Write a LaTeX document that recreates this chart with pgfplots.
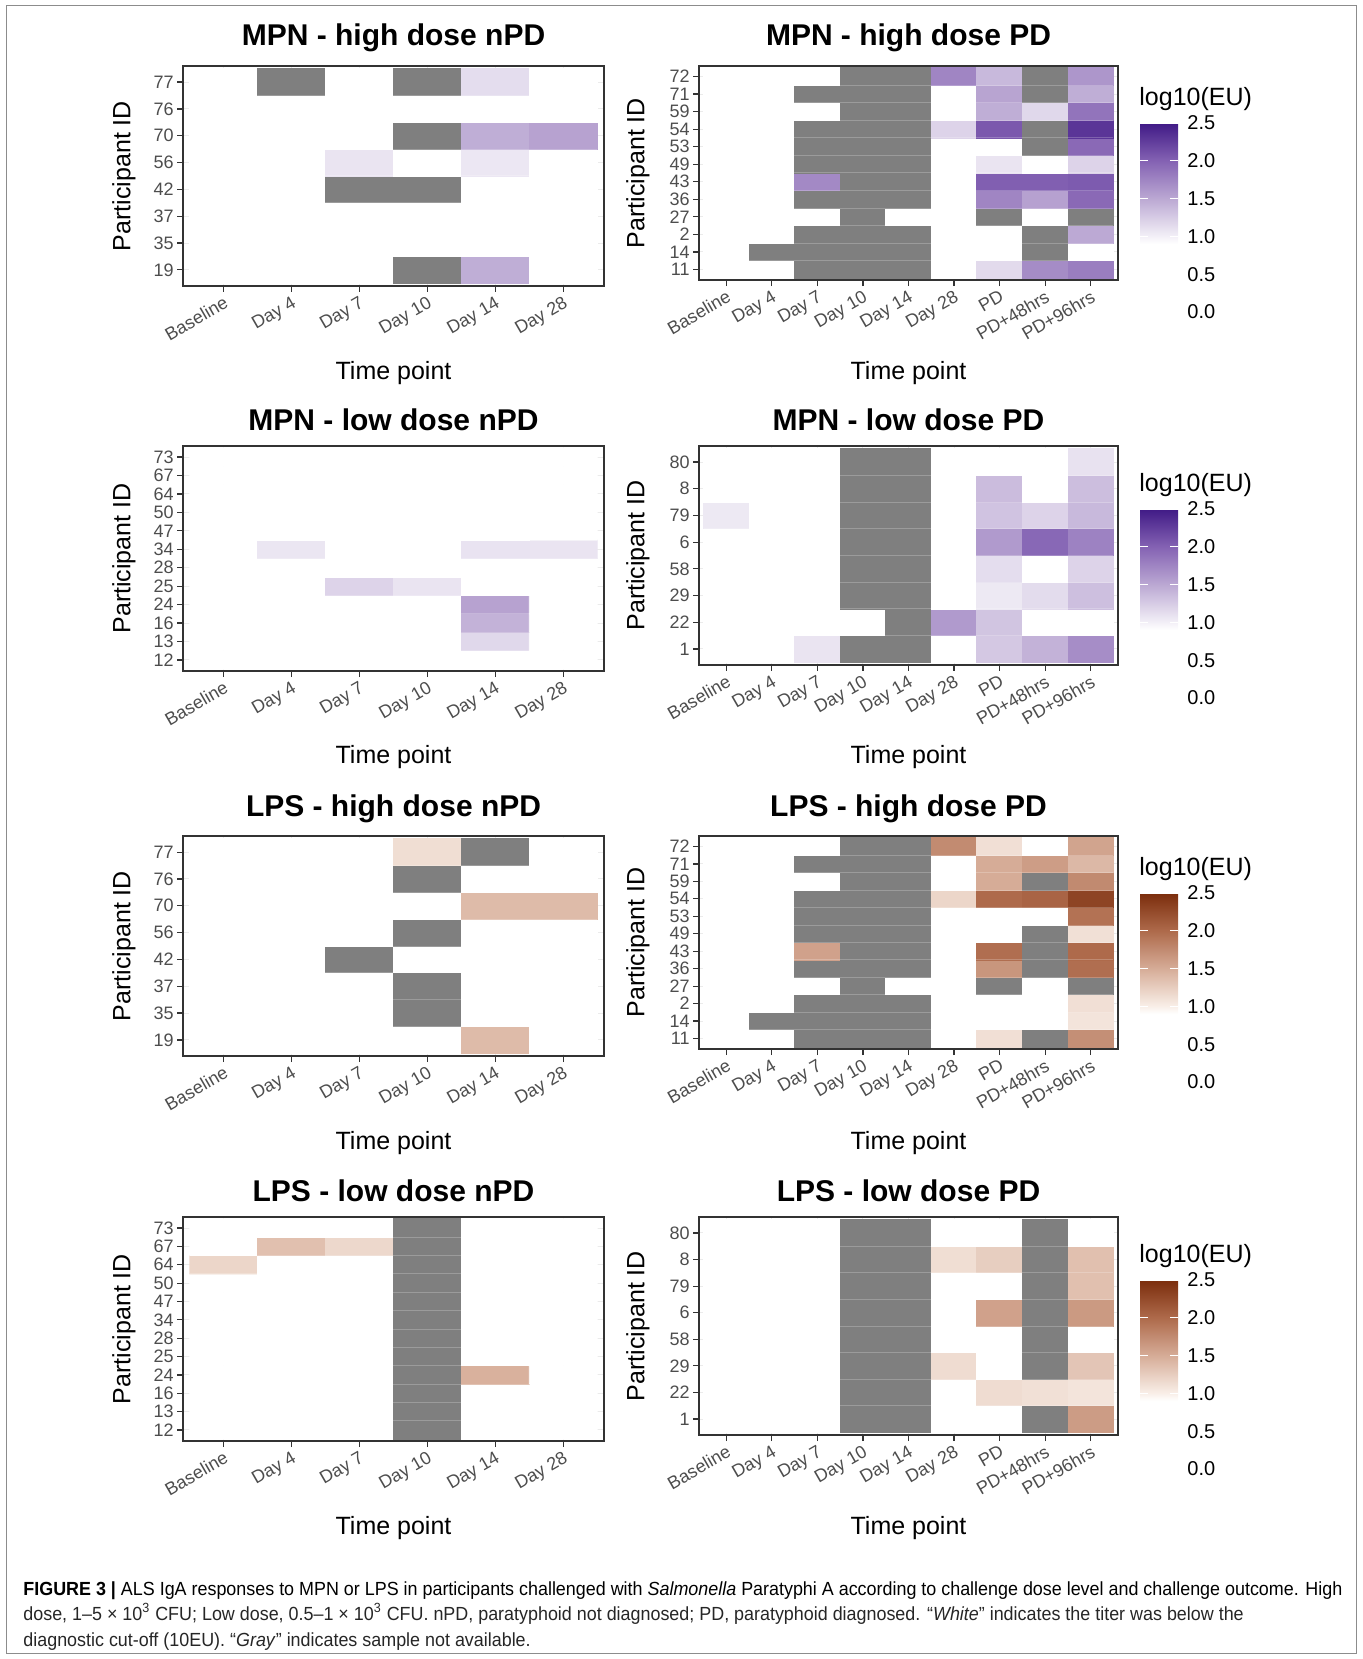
\documentclass[border=0pt]{standalone}
\usepackage{fontspec}
\setmainfont{Liberation Sans}
\newfontfamily\capfont{Liberation Sans}
\usepackage{graphicx}
\usepackage{pgfplots}
\pgfplotsset{compat=1.18}
\newsavebox\capA
\newlength\capW
\definecolor{ticktext}{HTML}{4D4D4D}
\definecolor{frameline}{HTML}{333333}
\pgfplotsset{
  colormap={mpnfull}{rgb255(0mm)=(127,127,127) rgb255(9mm)=(127,127,127) rgb255(10mm)=(255,255,255) rgb255(19mm)=(255,255,255) rgb255(20mm)=(243,240,247) rgb255(25mm)=(187,168,211) rgb255(30mm)=(132,98,179) rgb255(35mm)=(64,26,134)},
  colormap={mpnbar}{rgb255(0mm)=(255,255,255) rgb255(9mm)=(255,255,255) rgb255(10mm)=(243,240,247) rgb255(15mm)=(187,168,211) rgb255(20mm)=(132,98,179) rgb255(25mm)=(64,26,134)},
  colormap={lpsfull}{rgb255(0mm)=(127,127,127) rgb255(9mm)=(127,127,127) rgb255(10mm)=(255,255,255) rgb255(19mm)=(255,255,255) rgb255(20mm)=(249,239,232) rgb255(25mm)=(214,172,151) rgb255(30mm)=(174,106,75) rgb255(35mm)=(123,45,12)},
  colormap={lpsbar}{rgb255(0mm)=(255,255,255) rgb255(9mm)=(255,255,255) rgb255(10mm)=(249,239,232) rgb255(15mm)=(214,172,151) rgb255(20mm)=(174,106,75) rgb255(25mm)=(123,45,12)},
  hm/.style={
    scale only axis, anchor=north west,
    axis line style={draw=frameline, line width=0.7pt},
    tick align=outside, tick pos=left,
    major tick length=3pt,
    tick style={frameline, line width=0.6pt},
    grid=major, major grid style={black!8, line width=0.5pt},
    ymin=0.4, ytick distance=1,
    tick label style={font=\fontsize{9}{10}\selectfont, text=ticktext},
    x tick label style={rotate=30, anchor=north east, inner sep=1pt},
    y tick label style={inner sep=0.3pt, xshift=-1.2pt},
    /pgf/number format/assume math mode=true,
    point meta min=-1, point meta max=2.5,
  },
  hm6/.style={hm, xmin=0.4, xmax=6.6, xtick={1,...,6}, xticklabels={Baseline,Day 4,Day 7,Day 10,Day 14,Day 28}, width=210.5pt},
  hm9/.style={hm, xmin=0.4, xmax=9.6, xtick={1,...,9}, xticklabels={Baseline,Day 4,Day 7,Day 10,Day 14,Day 28,PD,PD+48hrs,PD+96hrs}, width=209.5pt},
  lgd/.style={at={(570pt,-#1)}, anchor=north west, scale only axis, width=19pt, height=94.5pt, hide axis,
     xmin=0, xmax=1, ymin=0, ymax=1, point meta min=0, point meta max=2.5,
     colorbar/width=19pt, colorbar shift/.style={}, colorbar,
     colorbar style={at={(parent axis.north west)}, anchor=north west, xshift=0pt, scale only axis, width=19pt, height=94.5pt,
       axis line style={draw=none}, xtick=\empty, ytick={0,0.5,1,1.5,2,2.5}, yticklabels={0.0,0.5,1.0,1.5,2.0,2.5},
       ytick pos=both, yticklabel pos=right, tick align=inside, major tick length=4pt,
       tick style={white, line width=0.6pt},
       yticklabel style={font=\fontsize{10}{12}\selectfont, text=black, inner sep=0pt, xshift=4.5pt}}},
}
\newcommand\rowlines[2]{\pgfplotsinvokeforeach{#1}{\draw[white, opacity=0.22, line width=0.5pt] (axis cs:0.5,##1.5) -- (axis cs:#2.5,##1.5);}}
\tikzset{ttl/.style={font=\bfseries\fontsize{15}{18}\selectfont, anchor=base},
  axl/.style={font=\fontsize{12.5}{14}\selectfont},
  lgt/.style={font=\fontsize{12.5}{14}\selectfont, anchor=west, inner sep=0pt}}
\begin{document}
\sbox\capA{\capfont\fontsize{9.5}{11}\selectfont\textbf{FIGURE 3 |} ALS IgA responses to MPN or LPS in participants challenged with \textit{Salmonella} Paratyphi A according to challenge dose level and challenge outcome. High}%
\setlength\capW{\wd\capA}%
\pgfmathsetmacro\capsc{659.5/\capW}%
\begin{tikzpicture}
\draw[black!45, line width=0.5pt] (3pt,-3pt) rectangle (678pt,-826.5pt);
% ---------- Row 1: MPN high dose
\node[ttl] at (196.75pt,-23pt) {MPN - high dose nPD};
\node[ttl] at (454.25pt,-23pt) {MPN - high dose PD};
\begin{axis}[hm6, at={(91.5pt,-33pt)}, height=110pt, colormap name=mpnfull, ymax=8.6, ytick={1,...,8}, yticklabels={19,35,37,42,56,70,76,77}]
\addplot[matrix plot*, mesh/cols=6, point meta=explicit] coordinates {
(1,1)[0] (2,1)[0] (3,1)[0] (4,1)[-1] (5,1)[1.46] (6,1)[0]
(1,2)[0] (2,2)[0] (3,2)[0] (4,2)[0] (5,2)[0] (6,2)[0]
(1,3)[0] (2,3)[0] (3,3)[0] (4,3)[0] (5,3)[0] (6,3)[0]
(1,4)[0] (2,4)[0] (3,4)[-1] (4,4)[-1] (5,4)[0] (6,4)[0]
(1,5)[0] (2,5)[0] (3,5)[1.08] (4,5)[0] (5,5)[1.06] (6,5)[0]
(1,6)[0] (2,6)[0] (3,6)[0] (4,6)[-1] (5,6)[1.46] (6,6)[1.54]
(1,7)[0] (2,7)[0] (3,7)[0] (4,7)[0] (5,7)[0] (6,7)[0]
(1,8)[0] (2,8)[-1] (3,8)[0] (4,8)[-1] (5,8)[1.13] (6,8)[0]
};
\rowlines{1,...,7}{6}
\end{axis}
\begin{axis}[hm9, at={(349.5pt,-33pt)}, height=107pt, colormap name=mpnfull, ymax=12.6, ytick={1,...,12}, yticklabels={11,14,2,27,36,43,49,53,54,59,71,72}]
\addplot[matrix plot*, mesh/cols=9, point meta=explicit] coordinates {
(1,1)[0] (2,1)[0] (3,1)[-1] (4,1)[-1] (5,1)[-1] (6,1)[0] (7,1)[1.15] (8,1)[1.70] (9,1)[1.80]
(1,2)[0] (2,2)[-1] (3,2)[-1] (4,2)[-1] (5,2)[-1] (6,2)[0] (7,2)[0] (8,2)[-1] (9,2)[0]
(1,3)[0] (2,3)[0] (3,3)[-1] (4,3)[-1] (5,3)[-1] (6,3)[0] (7,3)[0] (8,3)[-1] (9,3)[1.49]
(1,4)[0] (2,4)[0] (3,4)[0] (4,4)[-1] (5,4)[0] (6,4)[0] (7,4)[-1] (8,4)[0] (9,4)[-1]
(1,5)[0] (2,5)[0] (3,5)[-1] (4,5)[-1] (5,5)[-1] (6,5)[0] (7,5)[1.75] (8,5)[1.55] (9,5)[1.95]
(1,6)[0] (2,6)[0] (3,6)[1.72] (4,6)[-1] (5,6)[-1] (6,6)[0] (7,6)[2.02] (8,6)[2.02] (9,6)[2.05]
(1,7)[0] (2,7)[0] (3,7)[-1] (4,7)[-1] (5,7)[-1] (6,7)[0] (7,7)[1.08] (8,7)[0] (9,7)[1.20]
(1,8)[0] (2,8)[0] (3,8)[-1] (4,8)[-1] (5,8)[-1] (6,8)[0] (7,8)[0] (8,8)[-1] (9,8)[1.95]
(1,9)[0] (2,9)[0] (3,9)[-1] (4,9)[-1] (5,9)[-1] (6,9)[1.20] (7,9)[2.07] (8,9)[-1] (9,9)[2.31]
(1,10)[0] (2,10)[0] (3,10)[0] (4,10)[-1] (5,10)[-1] (6,10)[0] (7,10)[1.46] (8,10)[1.17] (9,10)[1.87]
(1,11)[0] (2,11)[0] (3,11)[-1] (4,11)[-1] (5,11)[-1] (6,11)[0] (7,11)[1.53] (8,11)[-1] (9,11)[1.46]
(1,12)[0] (2,12)[0] (3,12)[0] (4,12)[-1] (5,12)[-1] (6,12)[1.75] (7,12)[1.38] (8,12)[-1] (9,12)[1.63]
};
\rowlines{1,...,11}{9}
\end{axis}
\node[axl, rotate=90] at (62pt,-88pt) {Participant ID};
\node[axl, rotate=90] at (319pt,-86.5pt) {Participant ID};
\node[axl, anchor=base] at (196.75pt,-189.5pt) {Time point};
\node[axl, anchor=base] at (454.25pt,-189.5pt) {Time point};
\node[lgt] at (569.5pt,-49.5pt) {log10(EU)};
\begin{axis}[lgd=61.5pt, colormap name=mpnbar]
\addplot[draw=none] coordinates {(0,0)};
\end{axis}
% ---------- Row 2: MPN low dose
\node[ttl] at (196.75pt,-215.25pt) {MPN - low dose nPD};
\node[ttl] at (454.25pt,-215.25pt) {MPN - low dose PD};
\begin{axis}[hm6, at={(91.5pt,-223pt)}, height=112.5pt, colormap name=mpnfull, ymax=12.6, ytick={1,...,12}, yticklabels={12,13,16,24,25,28,34,47,50,64,67,73}]
\addplot[matrix plot*, mesh/cols=6, point meta=explicit] coordinates {
(1,1)[0] (2,1)[0] (3,1)[0] (4,1)[0] (5,1)[0] (6,1)[0]
(1,2)[0] (2,2)[0] (3,2)[0] (4,2)[0] (5,2)[1.17] (6,2)[0]
(1,3)[0] (2,3)[0] (3,3)[0] (4,3)[0] (5,3)[1.43] (6,3)[0]
(1,4)[0] (2,4)[0] (3,4)[0] (4,4)[0] (5,4)[1.54] (6,4)[0]
(1,5)[0] (2,5)[0] (3,5)[1.20] (4,5)[1.08] (5,5)[0] (6,5)[0]
(1,6)[0] (2,6)[0] (3,6)[0] (4,6)[0] (5,6)[0] (6,6)[0]
(1,7)[0] (2,7)[1.07] (3,7)[0] (4,7)[0] (5,7)[1.09] (6,7)[1.08]
(1,8)[0] (2,8)[0] (3,8)[0] (4,8)[0] (5,8)[0] (6,8)[0]
(1,9)[0] (2,9)[0] (3,9)[0] (4,9)[0] (5,9)[0] (6,9)[0]
(1,10)[0] (2,10)[0] (3,10)[0] (4,10)[0] (5,10)[0] (6,10)[0]
(1,11)[0] (2,11)[0] (3,11)[0] (4,11)[0] (5,11)[0] (6,11)[0]
(1,12)[0] (2,12)[0] (3,12)[0] (4,12)[0] (5,12)[0] (6,12)[0]
};
\rowlines{1,...,11}{6}
\end{axis}
\begin{axis}[hm9, at={(349.5pt,-223pt)}, height=109.5pt, colormap name=mpnfull, ymax=8.6, ytick={1,...,8}, yticklabels={1,22,29,58,6,79,8,80}]
\addplot[matrix plot*, mesh/cols=9, point meta=explicit] coordinates {
(1,1)[0] (2,1)[0] (3,1)[1.08] (4,1)[-1] (5,1)[-1] (6,1)[0] (7,1)[1.28] (8,1)[1.43] (9,1)[1.69]
(1,2)[0] (2,2)[0] (3,2)[0] (4,2)[0] (5,2)[-1] (6,2)[1.60] (7,2)[1.30] (8,2)[0] (9,2)[0]
(1,3)[0] (2,3)[0] (3,3)[0] (4,3)[-1] (5,3)[-1] (6,3)[0] (7,3)[1.05] (8,3)[1.14] (9,3)[1.34]
(1,4)[0] (2,4)[0] (3,4)[0] (4,4)[-1] (5,4)[-1] (6,4)[0] (7,4)[1.13] (8,4)[0] (9,4)[1.20]
(1,5)[0] (2,5)[0] (3,5)[0] (4,5)[-1] (5,5)[-1] (6,5)[0] (7,5)[1.60] (8,5)[1.96] (9,5)[1.77]
(1,6)[1.05] (2,6)[0] (3,6)[0] (4,6)[-1] (5,6)[-1] (6,6)[0] (7,6)[1.31] (8,6)[1.20] (9,6)[1.38]
(1,7)[0] (2,7)[0] (3,7)[0] (4,7)[-1] (5,7)[-1] (6,7)[0] (7,7)[1.36] (8,7)[0] (9,7)[1.35]
(1,8)[0] (2,8)[0] (3,8)[0] (4,8)[-1] (5,8)[-1] (6,8)[0] (7,8)[0] (8,8)[0] (9,8)[1.10]
};
\rowlines{1,...,7}{9}
\end{axis}
\node[axl, rotate=90] at (62pt,-279.25pt) {Participant ID};
\node[axl, rotate=90] at (319pt,-277.75pt) {Participant ID};
\node[axl, anchor=base] at (196.75pt,-381.8pt) {Time point};
\node[axl, anchor=base] at (454.25pt,-381.8pt) {Time point};
\node[lgt] at (569.5pt,-242.5pt) {log10(EU)};
\begin{axis}[lgd=254.5pt, colormap name=mpnbar]
\addplot[draw=none] coordinates {(0,0)};
\end{axis}
% ---------- Row 3: LPS high dose
\node[ttl] at (196.75pt,-408pt) {LPS - high dose nPD};
\node[ttl] at (454.25pt,-408pt) {LPS - high dose PD};
\begin{axis}[hm6, at={(91.5pt,-418pt)}, height=110pt, colormap name=lpsfull, ymax=8.6, ytick={1,...,8}, yticklabels={19,35,37,42,56,70,76,77}]
\addplot[matrix plot*, mesh/cols=6, point meta=explicit] coordinates {
(1,1)[0] (2,1)[0] (3,1)[0] (4,1)[0] (5,1)[1.39] (6,1)[0]
(1,2)[0] (2,2)[0] (3,2)[0] (4,2)[-1] (5,2)[0] (6,2)[0]
(1,3)[0] (2,3)[0] (3,3)[0] (4,3)[-1] (5,3)[0] (6,3)[0]
(1,4)[0] (2,4)[0] (3,4)[-1] (4,4)[0] (5,4)[0] (6,4)[0]
(1,5)[0] (2,5)[0] (3,5)[0] (4,5)[-1] (5,5)[0] (6,5)[0]
(1,6)[0] (2,6)[0] (3,6)[0] (4,6)[0] (5,6)[1.39] (6,6)[1.39]
(1,7)[0] (2,7)[0] (3,7)[0] (4,7)[-1] (5,7)[0] (6,7)[0]
(1,8)[0] (2,8)[0] (3,8)[0] (4,8)[1.13] (5,8)[-1] (6,8)[0]
};
\rowlines{1,...,7}{6}
\end{axis}
\begin{axis}[hm9, at={(349.5pt,-418pt)}, height=106.5pt, colormap name=lpsfull, ymax=12.6, ytick={1,...,12}, yticklabels={11,14,2,27,36,43,49,53,54,59,71,72}]
\addplot[matrix plot*, mesh/cols=9, point meta=explicit] coordinates {
(1,1)[0] (2,1)[0] (3,1)[-1] (4,1)[-1] (5,1)[-1] (6,1)[0] (7,1)[1.12] (8,1)[-1] (9,1)[1.72]
(1,2)[0] (2,2)[-1] (3,2)[-1] (4,2)[-1] (5,2)[-1] (6,2)[0] (7,2)[0] (8,2)[0] (9,2)[1.08]
(1,3)[0] (2,3)[0] (3,3)[-1] (4,3)[-1] (5,3)[-1] (6,3)[0] (7,3)[0] (8,3)[0] (9,3)[1.12]
(1,4)[0] (2,4)[0] (3,4)[0] (4,4)[-1] (5,4)[0] (6,4)[0] (7,4)[-1] (8,4)[0] (9,4)[-1]
(1,5)[0] (2,5)[0] (3,5)[-1] (4,5)[-1] (5,5)[-1] (6,5)[0] (7,5)[1.67] (8,5)[-1] (9,5)[1.97]
(1,6)[0] (2,6)[0] (3,6)[1.58] (4,6)[-1] (5,6)[-1] (6,6)[0] (7,6)[1.97] (8,6)[-1] (9,6)[2.00]
(1,7)[0] (2,7)[0] (3,7)[-1] (4,7)[-1] (5,7)[-1] (6,7)[0] (7,7)[0] (8,7)[-1] (9,7)[1.11]
(1,8)[0] (2,8)[0] (3,8)[-1] (4,8)[-1] (5,8)[-1] (6,8)[0] (7,8)[0] (8,8)[0] (9,8)[1.94]
(1,9)[0] (2,9)[0] (3,9)[-1] (4,9)[-1] (5,9)[-1] (6,9)[1.19] (7,9)[2.00] (8,9)[2.05] (9,9)[2.31]
(1,10)[0] (2,10)[0] (3,10)[0] (4,10)[-1] (5,10)[-1] (6,10)[0] (7,10)[1.50] (8,10)[-1] (9,10)[1.76]
(1,11)[0] (2,11)[0] (3,11)[-1] (4,11)[-1] (5,11)[-1] (6,11)[0] (7,11)[1.50] (8,11)[1.61] (9,11)[1.41]
(1,12)[0] (2,12)[0] (3,12)[0] (4,12)[-1] (5,12)[-1] (6,12)[1.75] (7,12)[1.12] (8,12)[0] (9,12)[1.56]
};
\rowlines{1,...,11}{9}
\end{axis}
\node[axl, rotate=90] at (62pt,-473pt) {Participant ID};
\node[axl, rotate=90] at (319pt,-471.25pt) {Participant ID};
\node[axl, anchor=base] at (196.75pt,-574.5pt) {Time point};
\node[axl, anchor=base] at (454.25pt,-574.5pt) {Time point};
\node[lgt] at (569.5pt,-434.5pt) {log10(EU)};
\begin{axis}[lgd=446.5pt, colormap name=lpsbar]
\addplot[draw=none] coordinates {(0,0)};
\end{axis}
% ---------- Row 4: LPS low dose
\node[ttl] at (196.75pt,-600.5pt) {LPS - low dose nPD};
\node[ttl] at (454.25pt,-600.5pt) {LPS - low dose PD};
\begin{axis}[hm6, at={(91.5pt,-608.5pt)}, height=112pt, colormap name=lpsfull, ymax=12.6, ytick={1,...,12}, yticklabels={12,13,16,24,25,28,34,47,50,64,67,73}]
\addplot[matrix plot*, mesh/cols=6, point meta=explicit] coordinates {
(1,1)[0] (2,1)[0] (3,1)[0] (4,1)[-1] (5,1)[0] (6,1)[0]
(1,2)[0] (2,2)[0] (3,2)[0] (4,2)[-1] (5,2)[0] (6,2)[0]
(1,3)[0] (2,3)[0] (3,3)[0] (4,3)[-1] (5,3)[0] (6,3)[0]
(1,4)[0] (2,4)[0] (3,4)[0] (4,4)[-1] (5,4)[1.46] (6,4)[0]
(1,5)[0] (2,5)[0] (3,5)[0] (4,5)[-1] (5,5)[0] (6,5)[0]
(1,6)[0] (2,6)[0] (3,6)[0] (4,6)[-1] (5,6)[0] (6,6)[0]
(1,7)[0] (2,7)[0] (3,7)[0] (4,7)[-1] (5,7)[0] (6,7)[0]
(1,8)[0] (2,8)[0] (3,8)[0] (4,8)[-1] (5,8)[0] (6,8)[0]
(1,9)[0] (2,9)[0] (3,9)[0] (4,9)[-1] (5,9)[0] (6,9)[0]
(1,10)[1.19] (2,10)[0] (3,10)[0] (4,10)[-1] (5,10)[0] (6,10)[0]
(1,11)[0] (2,11)[1.35] (3,11)[1.17] (4,11)[-1] (5,11)[0] (6,11)[0]
(1,12)[0] (2,12)[0] (3,12)[0] (4,12)[-1] (5,12)[0] (6,12)[0]
};
\rowlines{1,...,11}{6}
\end{axis}
\begin{axis}[hm9, at={(349.5pt,-608.5pt)}, height=109pt, colormap name=lpsfull, ymax=8.6, ytick={1,...,8}, yticklabels={1,22,29,58,6,79,8,80}]
\addplot[matrix plot*, mesh/cols=9, point meta=explicit] coordinates {
(1,1)[0] (2,1)[0] (3,1)[0] (4,1)[-1] (5,1)[-1] (6,1)[0] (7,1)[0] (8,1)[-1] (9,1)[1.62]
(1,2)[0] (2,2)[0] (3,2)[0] (4,2)[-1] (5,2)[-1] (6,2)[0] (7,2)[1.14] (8,2)[1.11] (9,2)[1.08]
(1,3)[0] (2,3)[0] (3,3)[0] (4,3)[-1] (5,3)[-1] (6,3)[1.14] (7,3)[0] (8,3)[-1] (9,3)[1.31]
(1,4)[0] (2,4)[0] (3,4)[0] (4,4)[-1] (5,4)[-1] (6,4)[0] (7,4)[0] (8,4)[-1] (9,4)[0]
(1,5)[0] (2,5)[0] (3,5)[0] (4,5)[-1] (5,5)[-1] (6,5)[0] (7,5)[1.58] (8,5)[-1] (9,5)[1.64]
(1,6)[0] (2,6)[0] (3,6)[0] (4,6)[-1] (5,6)[-1] (6,6)[0] (7,6)[0] (8,6)[-1] (9,6)[1.35]
(1,7)[0] (2,7)[0] (3,7)[0] (4,7)[-1] (5,7)[-1] (6,7)[1.13] (7,7)[1.25] (8,7)[-1] (9,7)[1.35]
(1,8)[0] (2,8)[0] (3,8)[0] (4,8)[-1] (5,8)[-1] (6,8)[0] (7,8)[0] (8,8)[-1] (9,8)[0]
};
\rowlines{1,...,7}{9}
\end{axis}
\node[axl, rotate=90] at (62pt,-664.5pt) {Participant ID};
\node[axl, rotate=90] at (319pt,-663pt) {Participant ID};
\node[axl, anchor=base] at (196.75pt,-767pt) {Time point};
\node[axl, anchor=base] at (454.25pt,-767pt) {Time point};
\node[lgt] at (569.5pt,-628pt) {log10(EU)};
\begin{axis}[lgd=640pt, colormap name=lpsbar]
\addplot[draw=none] coordinates {(0,0)};
\end{axis}
% ---------- Caption
\node[anchor=base west, inner sep=0pt, text=black!85] at (11.5pt,-797.5pt) {\scalebox{\capsc}[1]{\usebox\capA}};
\node[anchor=base west, inner sep=0pt, text=black!85] at (11.5pt,-810.25pt) {\scalebox{\capsc}[1]{\capfont\fontsize{9.5}{11}\selectfont dose, 1–5 × 10\textsuperscript{3} CFU; Low dose, 0.5–1 × 10\textsuperscript{3} CFU. nPD, paratyphoid not diagnosed; PD, paratyphoid diagnosed. “\textit{White}” indicates the titer was below the}};
\node[anchor=base west, inner sep=0pt, text=black!85] at (11.5pt,-823pt) {\scalebox{\capsc}[1]{\capfont\fontsize{9.5}{11}\selectfont diagnostic cut-off (10EU). “\textit{Gray}” indicates sample not available.}};
\pgfresetboundingbox
\path[use as bounding box] (0,0) rectangle (681pt,-829.5pt);
\end{tikzpicture}
\end{document}
